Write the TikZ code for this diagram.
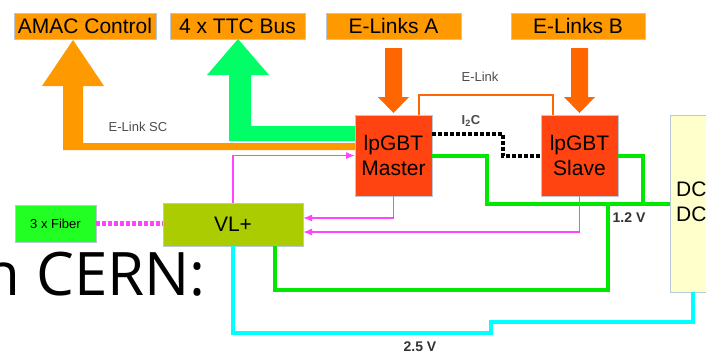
\documentclass[tikz,border=0pt]{standalone}
\usepackage{fontspec}
\setmainfont{Liberation Sans}
\newfontfamily\slidefont{Open Sans}
\usetikzlibrary{arrows.meta}

\definecolor{boxorange}{RGB}{255,153,0}
\definecolor{gbtred}{RGB}{255,68,17}
\definecolor{linkorange}{RGB}{255,102,0}
\definecolor{ttcgreen}{RGB}{0,255,102}
\definecolor{pwrgreen}{RGB}{0,232,0}
\definecolor{sigpink}{RGB}{255,68,255}
\definecolor{vlgreen}{RGB}{170,204,0}
\definecolor{fibergreen}{RGB}{34,255,34}
\definecolor{dcyellow}{RGB}{255,255,204}
\definecolor{supplycyan}{RGB}{0,255,255}
\definecolor{frame}{RGB}{185,200,215}

\tikzset{
  box/.style={
    draw=frame,
    line width=0.8pt,
    inner sep=0pt,
    outer sep=0pt,
    anchor=north west,
    align=center,
    font=\fontsize{21}{25}\selectfont
  },
  topbox/.style={box, fill=boxorange, minimum height=26pt},
  gbtbox/.style={box, fill=gbtred, minimum width=77pt, minimum height=81pt},
  lbl/.style={font=\fontsize{13}{15}\selectfont, text=black!70},
  volt/.style={font=\bfseries\fontsize{14}{16}\selectfont, text=black!80},
  pwrline/.style={pwrgreen, line width=4pt},
  sigarrow/.style={sigpink, line width=1.5pt, -{Latex[length=9pt,width=7pt]}}
}

\begin{document}
\begin{tikzpicture}[x=1pt, y=-1pt]
  \useasboundingbox (0,0) rectangle (706,354);
  \fill[white] (0,0) rectangle (706,354);

  \node[font=\slidefont\fontsize{60}{72}\selectfont, anchor=base east, inner sep=0pt] (title) at (206,295) {n CERN:};

  \node[topbox, minimum width=142pt] (amac) at (14,13) {AMAC Control};
  \node[topbox, minimum width=135pt] (ttc) at (170,13) {4 x TTC Bus};
  \node[topbox, minimum width=135pt] (elinka) at (326,13) {E-Links A};
  \node[topbox, minimum width=134pt] (elinkb) at (511,13) {E-Links B};

  \node[gbtbox] (master) at (355,115) {lpGBT\\Master};
  \node[gbtbox] (slave) at (541,115) {lpGBT\\Slave};

  \node[box, fill=vlgreen, minimum width=140pt, minimum height=43pt] (vlplus) at (163,203) {VL+};
  \node[box, fill=fibergreen, minimum width=81pt, minimum height=37pt, font=\fontsize{13}{15}\selectfont] (fiber) at (15,205) {3 x Fiber};
  \node[box, fill=dcyellow, minimum width=60pt, minimum height=177pt] (dcdc) at (670,115) {};
  \node[anchor=west, align=left, inner sep=0pt, font=\fontsize{21}{25}\selectfont] (dctext) at (676,202) {DC\\DC};

  % block arrows
  \fill[boxorange] (355,143) -- (83,143) -- (83,86) -- (104,86) -- (73,40)
    -- (42,86) -- (63,86) -- (63,150) -- (355,150) -- cycle;
  \fill[ttcgreen] (355,126) -- (251,126) -- (251,75) -- (269,75) -- (238,39)
    -- (207,75) -- (229,75) -- (229,141) -- (355,141) -- cycle;
  \fill[linkorange] (385,48) -- (402,48) -- (402,97) -- (409,97) -- (393.5,113)
    -- (378,97) -- (385,97) -- cycle;
  \fill[linkorange] (571,48) -- (588,48) -- (588,97) -- (595,97) -- (579.5,113)
    -- (564,97) -- (571,97) -- cycle;
  \node[lbl] (sclabel) at (138,127) {E-Link SC};

  % links between the lpGBTs
  \coordinate (elbus) at (480,95);
  \draw[linkorange, line width=2.5pt] ([xshift=-13pt]master.north east) |- (elbus) -| ([xshift=12pt]slave.north west);
  \node[lbl] (ellabel) at (480,77) {E-Link};
  \coordinate (i2cbend) at (503,144);
  \draw[black, line width=4pt, dash pattern=on 4pt off 2pt] ([yshift=22pt]master.east) -| (i2cbend) |- (slave.west);
  \node[lbl, font=\bfseries\fontsize{13}{15}\selectfont] (i2clabel) at (471,121) {I\textsubscript{2}C};

  % 1.2 V
  \coordinate (mbend) at (487,180);
  \coordinate (sjoin) at (643,203.5);
  \coordinate (vjoin) at (608,203.5);
  \coordinate (vbus) at (440,290);
  \draw[pwrline] (master.east) -| (mbend) |- (dcdc.west);
  \draw[pwrline] (slave.east) -| (sjoin);
  \draw[pwrline] (vjoin) |- (vbus) -| ([xshift=-28pt]vlplus.south east);
  \node[volt] (lowv) at (629,218) {1.2 V};

  % 2.5 V
  \coordinate (cbend) at (491,322);
  \coordinate (cstep) at (491,333);
  \draw[supplycyan, line width=4pt] ([xshift=23pt]dcdc.south west) |- (cbend) -- (cstep) -| (vlplus.south);
  \node[volt] (highv) at (420,346.5) {2.5 V};

  % VL+ links
  \draw[sigarrow] (vlplus.north) |- (master.west);
  \draw[sigarrow] (master.south) |- ([yshift=6.5pt]vlplus.east);
  \draw[sigarrow] (slave.south) |- ([yshift=-7.5pt]vlplus.east);
  \draw[sigpink, line width=4.5pt, dash pattern=on 4pt off 2pt] (fiber.east) -- (fiber.east -| vlplus.west);
\end{tikzpicture}
\end{document}
